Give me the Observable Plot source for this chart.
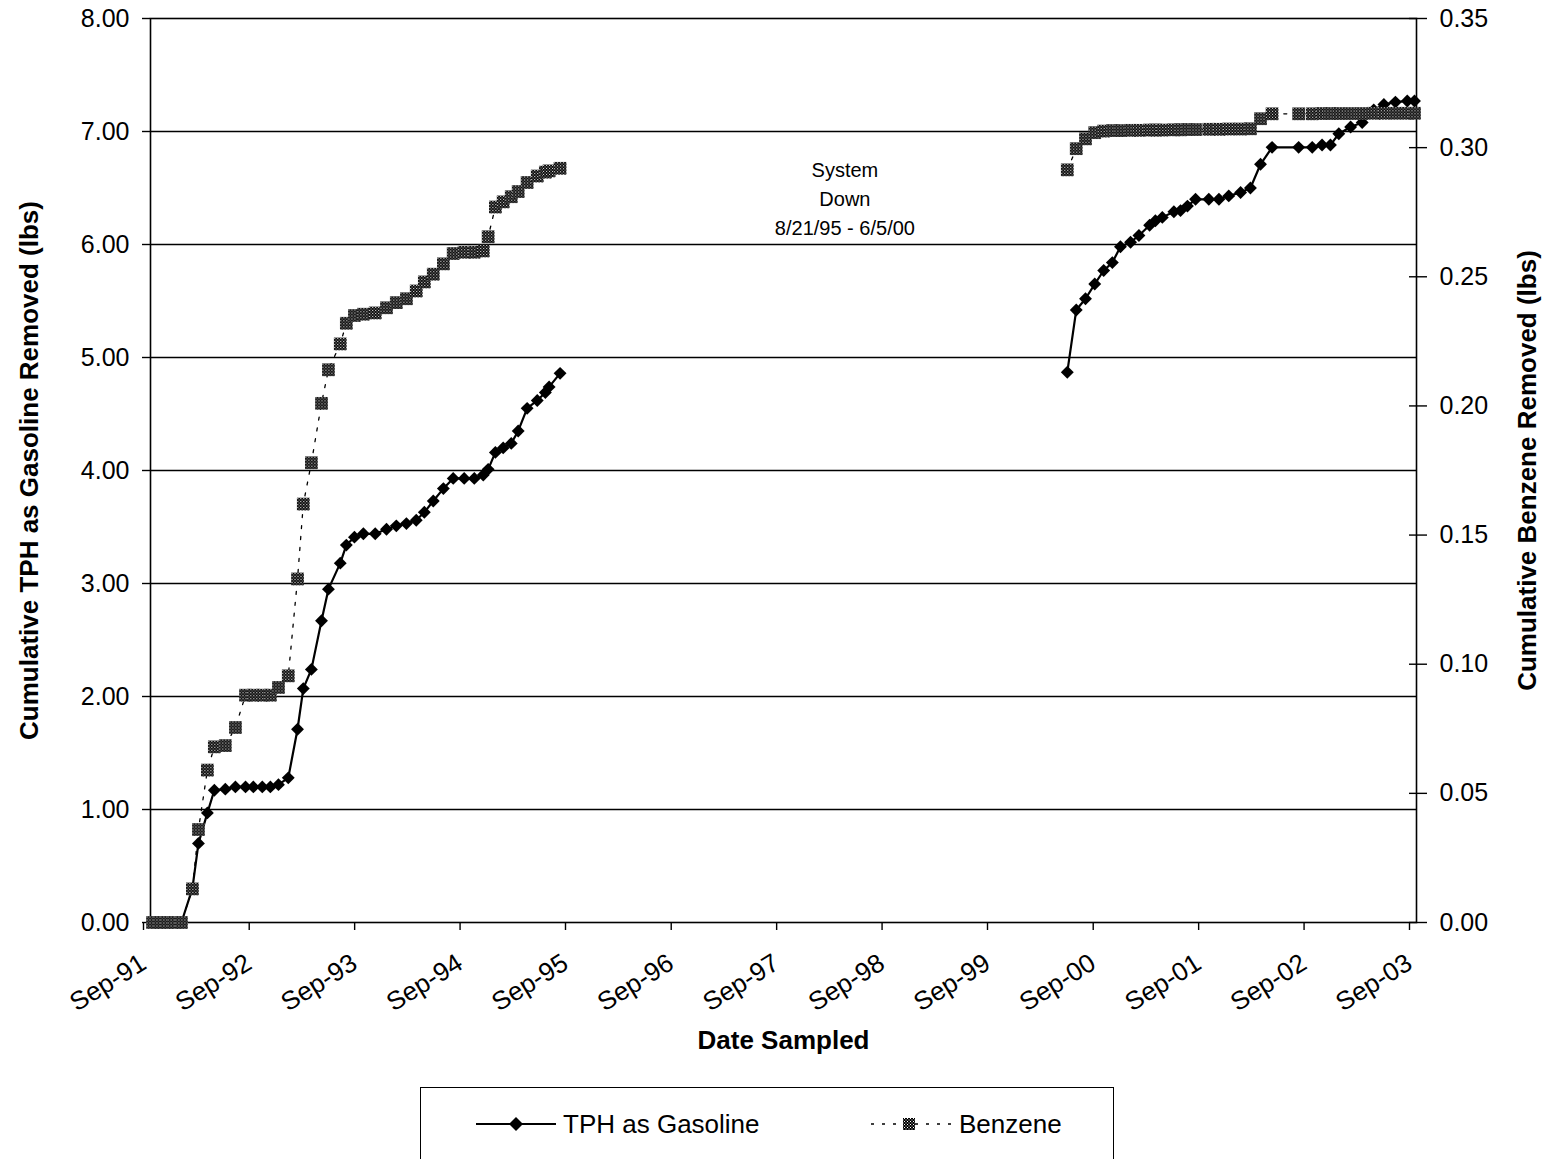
<!DOCTYPE html>
<html><head><meta charset="utf-8">
<script src="https://cdn.jsdelivr.net/npm/d3@7"></script>
<script src="https://cdn.jsdelivr.net/npm/@observablehq/plot@0.6"></script>
<style>
html,body{margin:0;padding:0;background:#fff;}
body{font-family:"Liberation Sans",Arial,sans-serif;width:1547px;height:1159px;position:relative;overflow:hidden;}
#chart{position:absolute;left:0;top:0;}
#legend{position:absolute;left:420px;top:1087px;width:694px;height:90px;border:1.5px solid #000;box-sizing:border-box;background:#fff;}
#legend svg{position:absolute;left:0;top:0;}
#legend span{position:absolute;top:21px;line-height:30px;font-size:26px;color:#000;white-space:nowrap;}
</style></head><body>
<div id="chart"></div>
<div id="legend">
  <svg width="694" height="90">
    <defs>
      <pattern id="chkL" width="3" height="3" patternUnits="userSpaceOnUse">
        <rect width="3" height="3" fill="#000"/>
        <rect width="1" height="1" fill="#fff"/>
        <rect x="1.5" y="1.5" width="1" height="1" fill="#fff"/>
      </pattern>
    </defs>
    <line x1="55" x2="135" y1="36" y2="36" stroke="#000" stroke-width="2.2"/>
    <path d="M95,29L102,36L95,43L88,36Z" fill="#000"/>
    <line x1="450" x2="535" y1="36" y2="36" stroke="#000" stroke-width="1.3" stroke-dasharray="3,8"/>
    <rect x="482" y="30" width="12" height="12" fill="url(#chkL)"/>
  </svg>
  <span id="lg1" style="left:142px"></span>
  <span id="lg2" style="left:538px"></span>
</div>
<script>
// ---------- data ----------
const seriesNames = ["TPH as Gasoline", "Benzene"];
const dates1 = ["1991-09-08","1991-10-02","1991-10-26","1991-11-20","1991-12-17","1992-01-24","1992-02-14","1992-03-16","1992-04-09","1992-05-17","1992-06-21","1992-07-26","1992-08-22","1992-09-22","1992-10-20","1992-11-17","1992-12-21","1993-01-22","1993-02-11","1993-03-11","1993-04-15","1993-05-09","1993-06-19","1993-07-10","1993-08-07","1993-09-07","1993-10-18","1993-11-26","1993-12-30","1994-02-03","1994-03-09","1994-04-06","1994-05-07","1994-06-11","1994-07-15","1994-08-22","1994-09-26","1994-10-27","1994-11-13","1994-12-08","1995-01-04","1995-02-01","1995-02-25","1995-03-28","1995-05-02","1995-05-30","1995-06-12","1995-07-20"];
const tph1 = [0,0,0,0,0,0.30,0.70,0.97,1.17,1.18,1.20,1.20,1.20,1.20,1.20,1.22,1.28,1.71,2.07,2.24,2.67,2.95,3.18,3.34,3.41,3.44,3.44,3.48,3.51,3.53,3.56,3.63,3.73,3.84,3.93,3.93,3.93,3.96,4.01,4.16,4.20,4.24,4.35,4.55,4.62,4.69,4.74,4.86];
const benz1 = [0,0,0,0,0,0.013,0.036,0.059,0.068,0.0685,0.0755,0.088,0.088,0.088,0.088,0.091,0.0955,0.133,0.162,0.178,0.201,0.214,0.224,0.232,0.235,0.2355,0.236,0.238,0.240,0.2415,0.2445,0.248,0.251,0.255,0.259,0.2595,0.2595,0.260,0.2655,0.277,0.279,0.281,0.283,0.2865,0.289,0.2905,0.291,0.292];
const dates2 = ["2000-05-10","2000-06-10","2000-07-12","2000-08-13","2000-09-13","2000-10-13","2000-11-10","2000-12-15","2001-01-13","2001-02-19","2001-03-11","2001-04-04","2001-05-14","2001-06-06","2001-06-30","2001-07-28","2001-09-12","2001-10-17","2001-11-20","2001-12-31","2002-02-03","2002-03-10","2002-04-19","2002-07-20","2002-09-05","2002-10-09","2002-11-07","2002-12-06","2003-01-16","2003-02-25","2003-04-06","2003-05-11","2003-06-20","2003-07-31","2003-08-25"];
const tph2 = [4.87,5.42,5.52,5.65,5.77,5.84,5.98,6.02,6.08,6.17,6.21,6.24,6.29,6.30,6.34,6.40,6.40,6.40,6.43,6.46,6.50,6.71,6.86,6.86,6.86,6.88,6.88,6.98,7.04,7.08,7.19,7.24,7.26,7.27,7.27];
const benz2 = [0.2914,0.2996,0.3034,0.3058,0.3064,0.3066,0.3066,0.3067,0.3067,0.3068,0.3068,0.3068,0.3069,0.3069,0.3070,0.3070,0.3071,0.3071,0.3072,0.3072,0.3073,0.3112,0.3131,0.3131,0.3131,0.3132,0.3132,0.3132,0.3132,0.3132,0.3133,0.3133,0.3133,0.3133,0.3133];
const leftTicks = [0,1,2,3,4,5,6,7,8];
const rightTicks = [0,0.05,0.10,0.15,0.20,0.25,0.30,0.35];
const xTickYears = [1991,1992,1993,1994,1995,1996,1997,1998,1999,2000,2001,2002,2003];
const xDomain = ["1991-09-01","2003-09-01"];
const leftTitle = "Cumulative TPH as Gasoline Removed (lbs)";
const rightTitle = "Cumulative Benzene Removed (lbs)";
const xTitle = "Date Sampled";
const note = {text: "System\nDown\n8/21/95 - 6/5/00", date: "1998-04-01", y: 6.42};

// ---------- build ----------
const parse = d3.utcParse("%Y-%m-%d");
const leftMax = leftTicks[leftTicks.length-1], rightMax = rightTicks[rightTicks.length-1];
const k = leftMax / rightMax;
const tph = [
  ...dates1.map((d,i)=>({date:parse(d), v:tph1[i], seg:1})),
  ...dates2.map((d,i)=>({date:parse(d), v:tph2[i], seg:2}))
];
const benz = [
  ...dates1.map((d,i)=>({date:parse(d), v:benz1[i]*k, seg:1})),
  ...dates2.map((d,i)=>({date:parse(d), v:benz2[i]*k, seg:2}))
];
const xTicks = xTickYears.map(y => new Date(Date.UTC(y, 8, 1)));
const fmtX = d3.utcFormat("%b-%y");

const svg = Plot.plot({
  width: 1547, height: 1075,
  marginLeft: 150, marginRight: 131, marginTop: 18, marginBottom: 153,
  x: {type: "utc", domain: xDomain.map(parse)},
  y: {domain: [0, leftMax]},
  style: {fontFamily: '"Liberation Sans", Arial, sans-serif', fontSize: "25px", color: "#000", background: "#fff", overflow: "visible"},
  marks: [
    Plot.ruleY(leftTicks.slice(1, -1), {stroke: "#000", strokeWidth: 1.4}),
    Plot.frame({stroke: "#000", strokeWidth: 1.6}),
    Plot.axisY(leftTicks, {anchor: "left", tickSize: 8, tickPadding: 13, tickFormat: d => d.toFixed(2), fontSize: 25, label: null, strokeWidth: 1.4}),
    Plot.axisY(rightTicks.map(v => v * k), {anchor: "right", tickSize: 18, dx: -8, tickPadding: 13, tickFormat: d => (d / k).toFixed(2), fontSize: 25, label: null, strokeWidth: 1.4}),
    Plot.axisX(xTicks, {anchor: "bottom", tickSize: 8, tickPadding: 30, dx: -7, tickRotate: -32, tickFormat: fmtX, fontSize: 26, label: null, strokeWidth: 1.4}),
    Plot.line(tph, {x: "date", y: "v", z: "seg", stroke: "#000", strokeWidth: 2.2}),
    Plot.dot(tph, {x: "date", y: "v", symbol: "diamond2", r: 5.8, fill: "#000", stroke: "none"}),
    Plot.line(benz, {x: "date", y: "v", z: "seg", stroke: "#000", strokeWidth: 1.3, strokeDasharray: "3,8"}),
    Plot.dot(benz, {x: "date", y: "v", symbol: "square", r: 7.2, fill: "url(#chk)", stroke: "none"}),
    Plot.text([note], {x: d => parse(d.date), y: "y", text: "text", fontSize: 20, lineHeight: 1.45, textAnchor: "middle"}),
    Plot.text([leftTitle], {frameAnchor: "left", dx: -121, rotate: -90, text: d => d, textAnchor: "middle", fontWeight: "bold", fontSize: 26}),
    Plot.text([rightTitle], {frameAnchor: "right", dx: 111, rotate: -90, text: d => d, textAnchor: "middle", fontWeight: "bold", fontSize: 26}),
    Plot.text([xTitle], {frameAnchor: "bottom", dy: 126, text: d => d, textAnchor: "middle", fontWeight: "bold", fontSize: 26})
  ]
});
d3.select(svg).insert("defs", ":first-child").html(
  '<pattern id="chk" width="3" height="3" patternUnits="userSpaceOnUse">' +
  '<rect width="3" height="3" fill="#000"/>' +
  '<rect width="1" height="1" fill="#fff"/>' +
  '<rect x="1.5" y="1.5" width="1" height="1" fill="#fff"/></pattern>'
);
document.getElementById("chart").appendChild(svg);
document.getElementById("lg1").textContent = seriesNames[0];
document.getElementById("lg2").textContent = seriesNames[1];
</script>
</body></html>
